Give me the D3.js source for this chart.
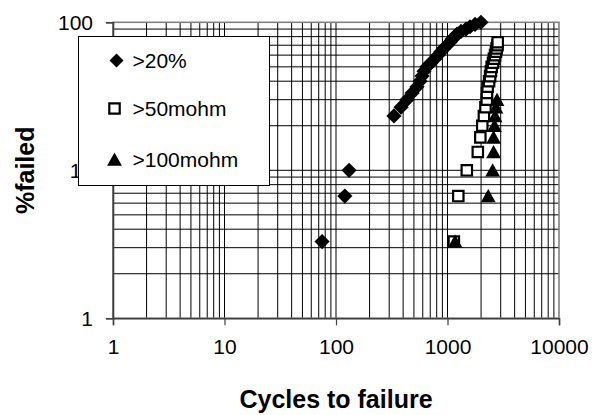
<!DOCTYPE html>
<html>
<head>
<meta charset="utf-8">
<script src="https://cdn.jsdelivr.net/npm/d3@7"></script>
<style>
  body { margin: 0; background: #fff; }
  text { font-family: Arial, "Liberation Sans", sans-serif; }
</style>
</head>
<body>
<div id="chart"></div>
<script>
// datos (escala log en ambos ejes)
const xTicks = [1, 10, 100, 1000, 10000];
const yTicks = [1, 10, 100];

const cycles20 = [75, 120, 131, 331, 383, 433, 481, 533, 567, 591, 615, 654, 711, 772,
  822, 874, 930, 990, 1052, 1097, 1167, 1217, 1321, 1466, 1592, 1766, 1995];
const pct20 = [3.3, 6.7, 10, 23.3, 26.7, 30, 33.3, 36.7, 40, 43.3, 46.7, 50, 53.3, 56.7,
  60, 63.3, 66.7, 70, 73.3, 76.7, 80, 83.3, 86.7, 90, 93.3, 96.7, 100];

const cycles50 = [1140, 1250, 1490, 1870, 1970, 2050, 2120, 2190, 2250, 2260, 2290,
  2360, 2410, 2450, 2490, 2560, 2610, 2670, 2720, 2760, 2810, 2820];
const pct50 = [3.3, 6.7, 10, 13.3, 16.7, 20, 23.3, 26.7, 30, 33.3, 36.7,
  40, 43.3, 46.7, 50, 53.3, 56.7, 60, 63.3, 66.7, 70, 73.3];

const cycles100 = [1170, 2320, 2540, 2590, 2590, 2640, 2670, 2720, 2780];
const pct100 = [3.3, 6.7, 10, 13.3, 16.7, 20, 23.3, 26.7, 30];

const seriesNames = [">20%", ">50mohm", ">100mohm"];

// Grafico
const W = 595, H = 415;
const margin = {top: 22.3, right: 36, bottom: 96.7, left: 113};
const width = W - margin.left - margin.right;
const height = H - margin.top - margin.bottom;

const svg = d3.select("#chart").append("svg")
  .attr("width", W).attr("height", H);

const g = svg.append("g")
  .attr("transform", `translate(${margin.left},${margin.top})`);

const x = d3.scaleLog().domain([1, 10000]).range([0, width]);
const y = d3.scaleLog().domain([1, 100]).range([height, 0]);

// grilla menor y mayor
const xGrid = [];
for (let d = 1; d < 10000; d *= 10) for (let k = 1; k <= 9; k++) xGrid.push(d * k);
const yGrid = [];
for (let d = 1; d < 100; d *= 10) for (let k = 1; k <= 9; k++) yGrid.push(d * k);

g.selectAll("line.vg").data(xGrid).join("line")
  .attr("class", "vg")
  .attr("x1", d => x(d)).attr("x2", d => x(d))
  .attr("y1", 0).attr("y2", height)
  .attr("stroke", "#000").attr("stroke-width", 1);

g.selectAll("line.hg").data(yGrid).join("line")
  .attr("class", "hg")
  .attr("x1", 0).attr("x2", width)
  .attr("y1", d => y(d)).attr("y2", d => y(d))
  .attr("stroke", "#000").attr("stroke-width", 1);

// marco
g.append("rect")
  .attr("width", width).attr("height", height)
  .attr("fill", "none").attr("stroke", "#808080").attr("stroke-width", 1.6);

// ejes
const xAxis = g.append("g")
  .attr("transform", `translate(0,${height})`)
  .call(d3.axisBottom(x).tickValues(xTicks).tickSize(7).tickPadding(14)
    .tickFormat(d3.format("d")));
const yAxis = g.append("g")
  .call(d3.axisLeft(y).tickValues(yTicks).tickSize(7).tickPadding(13)
    .tickFormat(d3.format("d")));

[xAxis, yAxis].forEach(a => {
  a.select(".domain").attr("stroke", "#404040").attr("stroke-width", 1.6);
  a.selectAll(".tick line").attr("stroke", "#404040").attr("stroke-width", 1.2);
  a.selectAll(".tick text").attr("fill", "#000").style("font-size", "21px")
    .style("font-family", "Arial, 'Liberation Sans', sans-serif");
});
yAxis.selectAll(".tick text").attr("dy", "0.36em");

// simbolos
const diamond = s => `M0,${-s}L${s},0L0,${s}L${-s},0Z`;
const square = s => `M${-s},${-s}H${s}V${s}H${-s}Z`;
const triangle = s => `M0,${-s * 0.95}L${s},${s * 0.85}L${-s},${s * 0.85}Z`;

const series = [
  {name: seriesNames[0], xs: cycles20, ys: pct20, path: diamond(7.6), fill: "#000", stroke: "none", sw: 0},
  {name: seriesNames[1], xs: cycles50, ys: pct50, path: square(5.2), fill: "#fff", stroke: "#000", sw: 2.2},
  {name: seriesNames[2], xs: cycles100, ys: pct100, path: triangle(7.4), fill: "#000", stroke: "none", sw: 0}
];

series.forEach(s => {
  g.append("g").selectAll("path")
    .data(s.xs.map((c, i) => [c, s.ys[i]]))
    .join("path")
    .attr("d", s.path)
    .attr("transform", d => `translate(${x(d[0])},${y(d[1])})`)
    .attr("fill", s.fill).attr("stroke", s.stroke).attr("stroke-width", s.sw);
});

// leyenda
const legend = svg.append("g").attr("transform", "translate(78.5,36.5)");
legend.append("rect")
  .attr("width", 191).attr("height", 149)
  .attr("fill", "#fff").attr("stroke", "#000").attr("stroke-width", 1);

const legY = [24, 72, 123];
series.forEach((s, i) => {
  legend.append("path")
    .attr("d", i === 0 ? diamond(7) : s.path)
    .attr("transform", `translate(${i === 0 ? 38 : 36},${legY[i]})`)
    .attr("fill", s.fill).attr("stroke", s.stroke).attr("stroke-width", s.sw);
  legend.append("text")
    .attr("x", 54).attr("y", legY[i]).attr("dy", "0.36em")
    .style("font-size", "21px")
    .text(s.name);
});

// titulos
svg.append("text")
  .attr("x", margin.left + width / 2).attr("y", 408)
  .attr("text-anchor", "middle")
  .style("font-size", "25px").style("font-weight", "bold")
  .text("Cycles to failure");

svg.append("text")
  .attr("transform", `translate(34,${margin.top + height / 2}) rotate(-90)`)
  .attr("text-anchor", "middle")
  .style("font-size", "25px").style("font-weight", "bold")
  .text("%failed");
</script>
</body>
</html>
